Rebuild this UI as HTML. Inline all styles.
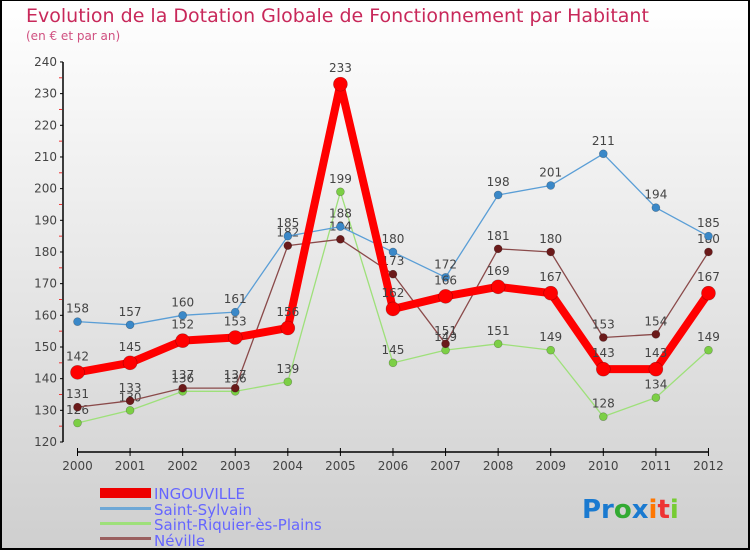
<!DOCTYPE html>
<html><head><meta charset="utf-8"><style>
body{margin:0}
#wrap{position:relative;width:750px;height:550px;box-sizing:border-box;border:2px solid #000;border-top:1px solid #000;background:linear-gradient(#fff,#cfcfcf);overflow:hidden;font-family:"DejaVu Sans","Liberation Sans",sans-serif}
</style></head><body>
<div id="wrap">
<svg id="svg" width="750" height="550" style="position:absolute;left:-2px;top:-1px">
<text x="26" y="22" font-size="19" fill="#c8285a">Evolution de la Dotation Globale de Fonctionnement par Habitant</text>
<text x="26" y="40" font-size="12" fill="#d05080">(en € et par an)</text>
<g id="axes"></g><g id="series"></g>
<g>
<rect x="100" y="488" width="51" height="10" fill="#e00"/>
<text x="154" y="499" font-size="15" fill="#66f">INGOUVILLE</text>
<rect x="100" y="507" width="51" height="3" fill="#6fa8d6"/>
<text x="154" y="515" font-size="15" fill="#66f">Saint-Sylvain</text>
<rect x="100" y="522" width="51" height="3" fill="#9ee07a"/>
<text x="154" y="530" font-size="15" fill="#66f">Saint-Riquier-ès-Plains</text>
<rect x="100" y="537" width="51" height="3" fill="#9a6060"/>
<text x="154" y="546" font-size="15" fill="#66f">Néville</text>
</g>
<text x="582" y="518" font-size="26" font-weight="bold"><tspan fill="#1a7ad0">Pr</tspan><tspan fill="#3a3">o</tspan><tspan fill="#1a7ad0">x</tspan><tspan fill="#f70">i</tspan><tspan fill="#e33">t</tspan><tspan fill="#7c3">i</tspan></text>
</svg>
</div>
<script>
const years=[2000,2001,2002,2003,2004,2005,2006,2007,2008,2009,2010,2011,2012];
const yTicks=[120,130,140,150,160,170,180,190,200,210,220,230,240];
const ingouville=[142,145,152,153,156,233,162,166,169,167,143,143,167];
const saintSylvain=[158,157,160,161,185,188,180,172,198,201,211,194,185];
const saintRiquier=[126,130,136,136,139,199,145,149,151,149,128,134,149];
const neville=[131,133,137,137,182,184,173,151,181,180,153,154,180];
const NS='http://www.w3.org/2000/svg';
const X=i=>77.5+i*52.58, Y=v=>442-(v-120)*3.167;
function mk(t,a,p){const e=document.createElementNS(NS,t);for(const k in a)e.setAttribute(k,a[k]);p.appendChild(e);return e;}
const ax=document.getElementById('axes');
let l=mk('line',{x1:63,y1:Y(240),x2:63,y2:Y(120),stroke:'#000','stroke-width':1.5},ax);


yTicks.forEach((v,i)=>{
 mk('line',{x1:60,x2:63,y1:Y(v),y2:Y(v),stroke:'#000'},ax);
 if(i<yTicks.length-1) mk('line',{x1:59,x2:62,y1:Y(v+5),y2:Y(v+5),stroke:'#e33'},ax);
 const t=mk('text',{x:57,y:Y(v)+4,'font-size':12,fill:'#444','text-anchor':'end'},ax);t.textContent=v;
 
 
});
l=mk('line',{x1:X(0),y1:452,x2:X(12),y2:452,stroke:'#000','stroke-width':1.5},ax);


years.forEach((y,i)=>{
 mk('line',{x1:X(i),x2:X(i),y1:448,y2:456,stroke:'#000'},ax);
 const t=mk('text',{x:X(i),y:470,'font-size':12,fill:'#444','text-anchor':'middle'},ax);t.textContent=y;
 
 
});
const sg=document.getElementById('series');
function series(data,color,w,r,name,dot){
 const g=mk('g',{},sg);
 
 
 const p=mk('polyline',{points:data.map((v,i)=>X(i)+','+Y(v)).join(' '),fill:'none',stroke:color,'stroke-width':w,'stroke-linejoin':'round'},g);
 
 
 data.forEach((v,i)=>{
  const c=mk('circle',{cx:X(i),cy:Y(v),r:r,fill:dot,stroke:'rgba(0,0,0,0.3)','stroke-width':0.6},g);
  
  
  const t=mk('text',{x:X(i),y:Y(v)-(r+5),'font-size':12,fill:'#444','text-anchor':'middle'},g);t.textContent=v;
  
  
 });
}
series(saintRiquier,'#9ee07a',1.3,4,'saint-riquier-series','#7ccf45');
series(neville,'#8a4a4a',1.3,4,'neville-series','#6b1a1a');
series(saintSylvain,'#5a9ed6',1.3,4,'saint-sylvain-series','#3a88c8');
series(ingouville,'#f00',8,7,'ingouville-series','#f00');
</script>
</body></html>
